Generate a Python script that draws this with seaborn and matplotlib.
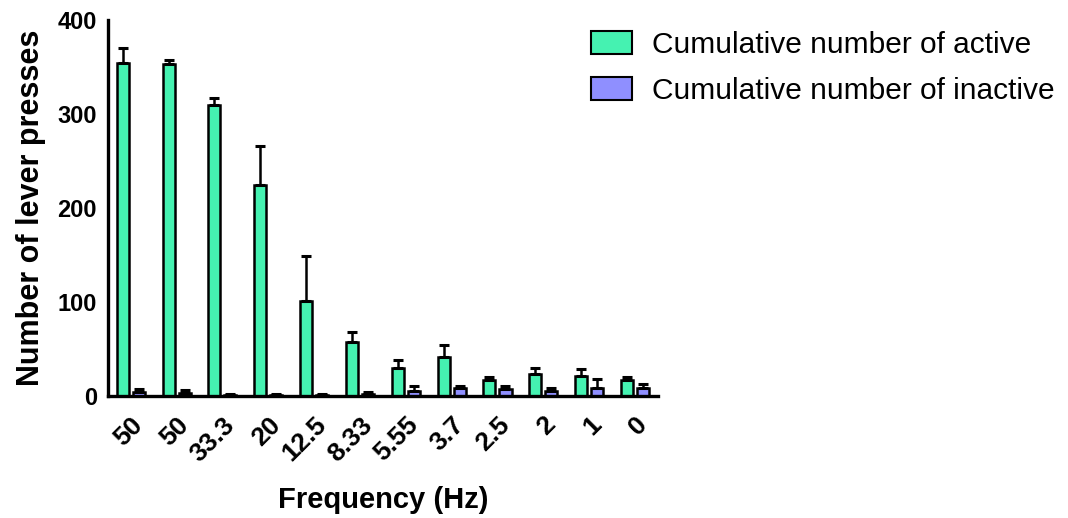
import numpy as np
import pandas as pd
import matplotlib
matplotlib.use("Agg")
import matplotlib.pyplot as plt
import seaborn as sns

# datos
freq_labels = ["50", "50", "33.3", "20", "12.5", "8.33", "5.55", "3.7", "2.5", "2", "1", "0"]
active_mean = [354, 353, 310, 225, 101, 58, 30, 41, 17, 23, 21, 17]
active_sem = [16, 5, 7, 41, 48, 10, 8, 13, 3, 7, 8, 3]
inactive_mean = [4, 3, 1, 1, 1, 2, 5, 8, 7, 5, 9, 8]
inactive_sem = [3, 3, 1, 1, 1, 2, 6, 3, 4, 4, 9, 5]

series_names = ["Cumulative number of active", "Cumulative number of inactive"]
colors = ["#45F2B1", "#8F8FFF"]

# "50" aparece dos veces, asi que se usa la posicion como categoria
pos = list(range(len(freq_labels)))
df = pd.concat([
    pd.DataFrame({"pos": pos, "value": active_mean, "serie": series_names[0]}),
    pd.DataFrame({"pos": pos, "value": inactive_mean, "serie": series_names[1]}),
], ignore_index=True)

sns.set_theme(style="white")
plt.rcParams["font.family"] = ["Liberation Sans", "DejaVu Sans"]
plt.rcParams.update({"text.color": "black", "axes.labelcolor": "black",
                     "xtick.color": "black", "ytick.color": "black"})

fig = plt.figure(figsize=(10.68, 5.18), dpi=100)
ax = fig.add_axes([0.101, 0.2355, 0.515, 0.7255])

sns.barplot(data=df, x="pos", y="value", hue="serie",
            palette=colors, saturation=1, width=0.7, gap=0.25, errorbar=None,
            edgecolor="black", linewidth=1.8, ax=ax)

# barras de error (solo hacia arriba), a partir de las barras dibujadas
sems = [active_sem, inactive_sem]
bar_groups = list(ax.containers)
for i, cont in enumerate(bar_groups):
    xs = [p.get_x() + p.get_width() / 2 for p in cont.patches]
    hs = [p.get_height() for p in cont.patches]
    ax.errorbar(xs, hs, yerr=[np.zeros(len(hs)), sems[i]], fmt="none",
                ecolor="black", elinewidth=1.8, capsize=3.5, capthick=2.2, zorder=1)

ax.set_xlim(-0.5, 11.5)
ax.set_ylim(0, 400)
ax.set_yticks([0, 100, 200, 300, 400])
ax.set_xticks(pos)
ax.set_xticklabels(freq_labels, rotation=45, ha="right", rotation_mode="anchor",
                   fontsize=19, fontweight="bold")
for t in ax.get_yticklabels():
    t.set_fontsize(17)
    t.set_fontweight("bold")

ax.set_xlabel("Frequency (Hz)", fontsize=21, fontweight="bold", labelpad=14)
ax.set_ylabel("Number of lever presses", fontsize=22, fontweight="bold", labelpad=8)

sns.despine(ax=ax)
for s in ["left", "bottom"]:
    ax.spines[s].set_linewidth(2.4)
    ax.spines[s].set_color("black")
ax.tick_params(axis="both", direction="out", length=7, width=2.4, colors="black")
ax.tick_params(axis="x", pad=5)
ax.tick_params(axis="y", pad=1)

leg = ax.legend(loc="upper left", frameon=False,
                fontsize=21.5, handlelength=1.37, handleheight=0.8, labelspacing=0.6,
                handletextpad=0.7, borderaxespad=0, borderpad=0)
for h in leg.legend_handles:
    h.set_linewidth(1.5)
leg.set_bbox_to_anchor((0.553, 0.94), transform=fig.transFigure)

fig.savefig("out.png", dpi=100)
